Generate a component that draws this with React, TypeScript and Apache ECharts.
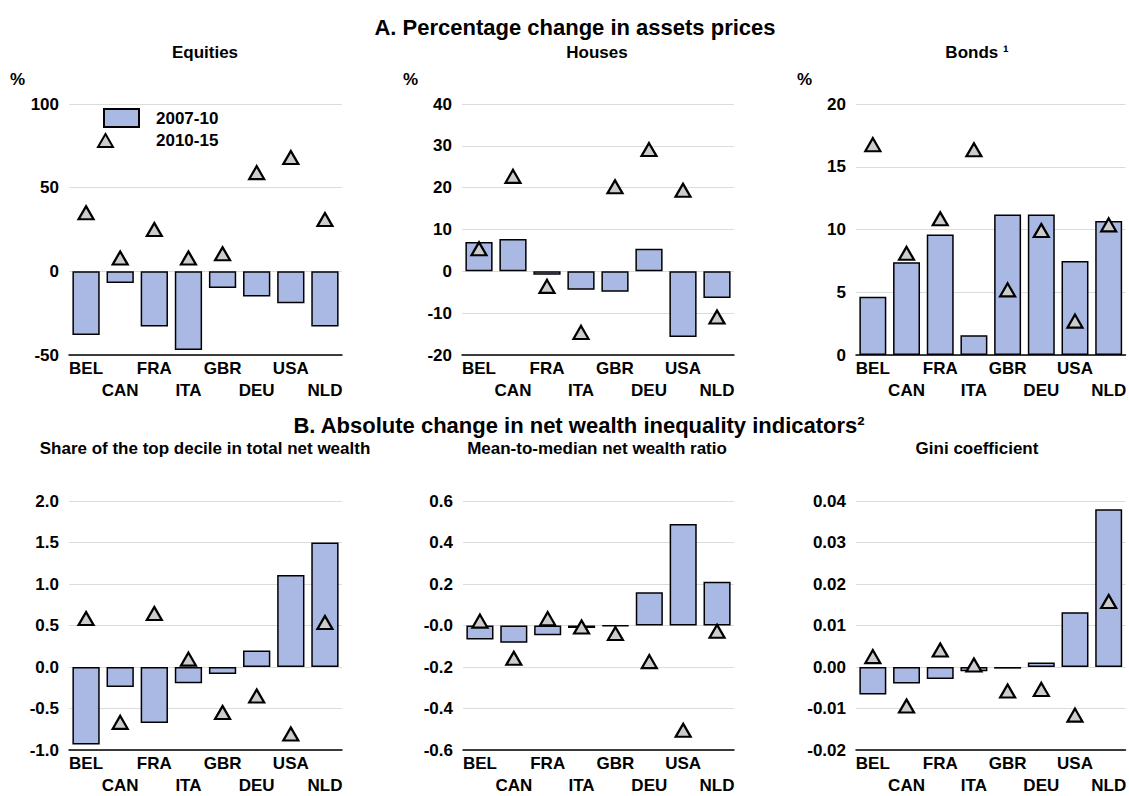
import React, { useEffect, useRef } from 'react';
import * as echarts from 'echarts';

const FONT = '"Liberation Sans", Arial, sans-serif';

const categories = ['BEL', 'CAN', 'FRA', 'ITA', 'GBR', 'DEU', 'USA', 'NLD'];
const legendNames = ['2007-10', '2010-15'];

const equities0710 = [-38, -7, -33, -47, -10, -15, -19, -33];
const equities1015 = [35, 8, 25, 8, 10.5, 59, 68, 31];
const houses0710 = [7.0, 7.7, -0.8, -4.4, -4.9, 5.4, -15.7, -6.4];
const houses1015 = [5.4, 22.7, -3.6, -14.6, 20.2, 29.1, 19.4, -10.9];
const bonds0710 = [4.65, 7.4, 9.6, 1.57, 11.2, 11.2, 7.5, 10.67];
const bonds1015 = [16.76, 8.1, 10.85, 16.36, 5.19, 9.92, 2.7, 10.37];
const topDecile0710 = [-0.934, -0.24, -0.675, -0.195, -0.083, 0.2, 1.108, 1.5];
const topDecile1015 = [0.584, -0.667, 0.644, 0.095, -0.548, -0.35, -0.807, 0.536];
const meanMedian0710 = [-0.068, -0.083, -0.047, -0.012, -0.003, 0.16, 0.489, 0.211];
const meanMedian1015 = [0.021, -0.158, 0.033, -0.007, -0.039, -0.174, -0.505, -0.028];
const gini0710 = [-0.0066, -0.004, -0.0029, -0.001, -0.0004, 0.0011, 0.0132, 0.038];
const gini1015 = [0.0025, -0.0094, 0.0041, 0.0005, -0.0058, -0.0054, -0.0116, 0.0158];

const panels = [
  { bars: equities0710, tri: equities1015, min: -50, max: 100, interval: 50, fmt: (v: number) => String(Math.round(v)) },
  { bars: houses0710, tri: houses1015, min: -20, max: 40, interval: 10, fmt: (v: number) => String(Math.round(v)) },
  { bars: bonds0710, tri: bonds1015, min: 0, max: 20, interval: 5, fmt: (v: number) => String(Math.round(v)) },
  { bars: topDecile0710, tri: topDecile1015, min: -1, max: 2, interval: 0.5, fmt: (v: number) => (Math.abs(v) < 1e-9 ? '0.0' : v.toFixed(1)) },
  { bars: meanMedian0710, tri: meanMedian1015, min: -0.6, max: 0.6, interval: 0.2, fmt: (v: number) => (Math.abs(v) < 1e-9 ? '-0.0' : v.toFixed(1)) },
  { bars: gini0710, tri: gini1015, min: -0.02, max: 0.04, interval: 0.01, fmt: (v: number) => (Math.abs(v) < 1e-9 ? '0.00' : v.toFixed(2)) },
];

const grids = [
  { left: 69, top: 104, width: 273, height: 251 },
  { left: 462, top: 104, width: 272, height: 251 },
  { left: 856, top: 104, width: 272, height: 251 },
  { left: 69, top: 501, width: 273, height: 252 },
  { left: 463, top: 501, width: 271, height: 252 },
  { left: 856, top: 501, width: 272, height: 252 },
];

const txt = (text: string, x: number, y: number, size: number, align = 'center') => ({
  type: 'text',
  x,
  y,
  style: {
    text,
    fill: '#000',
    font: `bold ${size}px ${FONT}`,
    textAlign: align,
    textVerticalAlign: 'middle',
  },
});

export default function App() {
  const ref = useRef<HTMLDivElement>(null);
  useEffect(() => {
    if (!ref.current) return;
    const chart = echarts.init(ref.current, null, { renderer: 'svg' });
    const labelStyle = { color: '#000', fontFamily: FONT, fontSize: 17, fontWeight: 'bold' as const };
    const option: any = {
      animation: false,
      backgroundColor: '#fff',
      grid: grids.map((g) => ({ ...g, containLabel: false })),
      xAxis: panels.map((_, i) => ({
        type: 'category',
        gridIndex: i,
        data: categories,
        position: 'bottom',
        axisLine: { onZero: false, lineStyle: { color: '#000', width: 1.5 } },
        axisTick: { alignWithLabel: true, inside: true, length: 5, lineStyle: { color: '#000', width: 1 } },
        axisLabel: {
          ...labelStyle,
          interval: 0,
          margin: 2,
          lineHeight: 22,
          formatter: (v: string, idx: number) => (idx % 2 ? '\n' + v : v),
        },
        splitLine: { show: false },
      })),
      yAxis: panels.map((p, i) => ({
        type: 'value',
        gridIndex: i,
        min: p.min,
        max: p.max,
        interval: p.interval,
        axisLine: { show: false },
        axisTick: { show: false },
        splitLine: { lineStyle: { color: '#dcdcdc', width: 1 } },
        axisLabel: { ...labelStyle, margin: 10, formatter: p.fmt },
      })),
      legend: [
        {
          data: [{ name: legendNames[0], icon: 'rect' }],
          left: 103,
          top: 108,
          orient: 'vertical',
          itemWidth: 35,
          itemHeight: 18,
          selectedMode: false,
          padding: 0,
          textStyle: { ...labelStyle, padding: [0, 0, 0, 12] },
        },
        {
          data: [legendNames[1]],
          left: 97,
          top: 132,
          orient: 'vertical',
          itemWidth: 15,
          itemHeight: 13,
          selectedMode: false,
          padding: 0,
          textStyle: { ...labelStyle, padding: [0, 0, 0, 38] },
        },
      ],
      series: panels.flatMap((p, i) => [
        {
          type: 'bar',
          name: legendNames[0],
          xAxisIndex: i,
          yAxisIndex: i,
          data: p.bars,
          barWidth: '80%',
          itemStyle: { color: '#a9b9e3', borderColor: '#000', borderWidth: 1.5 },
        },
        {
          type: 'scatter',
          name: legendNames[1],
          xAxisIndex: i,
          yAxisIndex: i,
          data: p.tri,
          symbol: 'triangle',
          symbolSize: [15, 13],
          z: 5,
          itemStyle: { color: '#cccccc', borderColor: '#000', borderWidth: 2.2, opacity: 1 },
        },
      ]),
      graphic: [
        txt('A. Percentage change in assets prices', 575, 27, 22),
        txt('Equities', 205, 52, 17),
        txt('Houses', 597, 52, 17),
        txt('Bonds \u00B9', 977, 52, 17),
        txt('%', 10, 79, 17, 'left'),
        txt('%', 403, 79, 17, 'left'),
        txt('%', 797, 79, 17, 'left'),
        txt('B. Absolute change in net wealth inequality indicators\u00B2', 579, 425, 22),
        txt('Share of the top decile in total net wealth', 205, 448, 17),
        txt('Mean-to-median net wealth ratio', 597, 448, 17),
        txt('Gini coefficient', 977, 448, 17),
      ],
    };
    chart.setOption(option);
    return () => chart.dispose();
  }, []);
  return (
    <div
      ref={ref}
      style={{ position: 'fixed', left: 0, top: 0, width: 1129, height: 796, background: '#fff' }}
    />
  );
}
